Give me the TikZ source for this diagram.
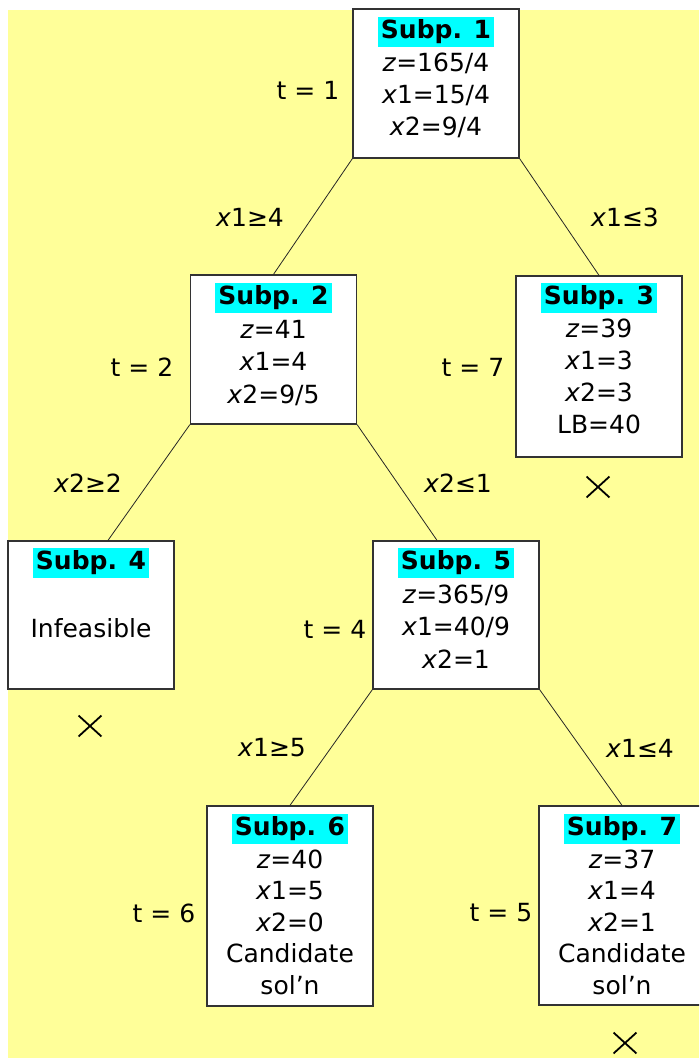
\documentclass[tikz,border=0pt]{standalone}
\usepackage{fontspec}
\setmainfont{DejaVu Sans}
\usetikzlibrary{positioning, shapes.misc}

\definecolor{bgyellow}{HTML}{FFFF99}
\definecolor{hilite}{HTML}{00FFFF}
\definecolor{boxline}{HTML}{333333}

\newcommand{\hd}[1]{{\setlength{\fboxsep}{3pt}\colorbox{hilite}{\textbf{#1}}}}

\tikzset{
    subbox/.style={draw=boxline, line width=1.3pt, fill=white, inner sep=0pt, minimum width=166pt},
    subtxt/.style={align=center, inner sep=0pt, font=\fontsize{25}{32}\selectfont},
    lbl/.style={inner sep=0pt, font=\fontsize{25}{30}\selectfont},
    branch/.style={draw=black!85, line width=0.8pt},
    fathom/.style={cross out, draw=black, line width=1.8pt, inner sep=0pt, minimum width=21pt, minimum height=19pt}
}

\begin{document}
\begin{tikzpicture}[x=1pt, y=-1pt]
    % Page and background
    \clip (0,0) rectangle (699,1059);
    \fill[bgyellow] (8,10) rectangle (699,1058);

    % Subproblem boxes
    \node[subbox, minimum height=149pt] (sp1) at (436,83.5) {};
    \node[subbox, minimum height=149pt] (sp2) at (273.5,349.5) {};
    \node[subbox, minimum height=181pt] (sp3) at (599,366.5) {};
    \node[subbox, minimum height=148pt] (sp4) at (91,615) {};
    \node[subbox, minimum height=148pt] (sp5) at (456,615) {};
    \node[subbox, minimum height=200pt] (sp6) at (290,906) {};
    \node[subbox, minimum height=199pt] (sp7) at (622,905.5) {};

    % Box contents
    \node[subtxt, below=8pt of sp1.north] (sp1t) {\hd{Subp. 1}\\[1pt] \textit{z}=165/4\\ \textit{x}1=15/4\\ \textit{x}2=9/4};
    \node[subtxt, below=8pt of sp2.north, font=\fontsize{25}{32.5}\selectfont] (sp2t) {\hd{Subp. 2}\\[1pt] \textit{z}=41\\ \textit{x}1=4\\ \textit{x}2=9/5};
    \node[subtxt, below=7pt of sp3.north] (sp3t) {\hd{Subp. 3}\\[1pt] \textit{z}=39\\ \textit{x}1=3\\ \textit{x}2=3\\ LB=40};
    \node[subtxt, below=7pt of sp4.north] (sp4t) {\hd{Subp. 4}\\[36pt] Infeasible};
    \node[subtxt, below=7pt of sp5.north, font=\fontsize{25}{32.5}\selectfont] (sp5t) {\hd{Subp. 5}\\[1pt] \textit{z}=365/9\\ \textit{x}1=40/9\\ \textit{x}2=1};
    \node[subtxt, below=8pt of sp6.north, font=\fontsize{25}{31.6}\selectfont] (sp6t) {\hd{Subp. 6}\\[1pt] \textit{z}=40\\ \textit{x}1=5\\ \textit{x}2=0\\ Candidate\\ sol’n};
    \node[subtxt, below=8pt of sp7.north, font=\fontsize{25}{31.6}\selectfont] (sp7t) {\hd{Subp. 7}\\[1pt] \textit{z}=37\\ \textit{x}1=4\\ \textit{x}2=1\\ Candidate\\ sol’n};

    % Branches
    \draw[branch] (sp1.south west) -- (sp2.north);
    \draw[branch] (sp1.south east) -- (sp3.north);
    \draw[branch] (sp2.south west) -- ([xshift=17pt]sp4.north);
    \draw[branch] (sp2.south east) -- ([xshift=-19pt]sp5.north);
    \draw[branch] (sp5.south west) -- (sp6.north);
    \draw[branch] (sp5.south east) -- (sp7.north);

    % Branching constraints
    \node[lbl] (c12) at (250,217) {\textit{x}1≥4};
    \node[lbl] (c13) at (625,217) {\textit{x}1≤3};
    \node[lbl] (c24) at (88,483) {\textit{x}2≥2};
    \node[lbl] (c25) at (458,483) {\textit{x}2≤1};
    \node[lbl] (c56) at (272,748) {\textit{x}1≥5};
    \node[lbl] (c57) at (640,748) {\textit{x}1≤4};

    % Solve order
    \node[lbl] (t1) at (308,90) {t = 1};
    \node[lbl] (t2) at (142,367) {t = 2};
    \node[lbl] (t7) at (473,367) {t = 7};
    \node[lbl] (t4) at (335,629) {t = 4};
    \node[lbl] (t6) at (164,913) {t = 6};
    \node[lbl] (t5) at (501,913) {t = 5};

    % Fathomed nodes
    \node[fathom] (f3) at (598,487) {};
    \node[fathom] (f4) at (90,726) {};
    \node[fathom] (f7) at (625,1043) {};
\end{tikzpicture}
\end{document}
